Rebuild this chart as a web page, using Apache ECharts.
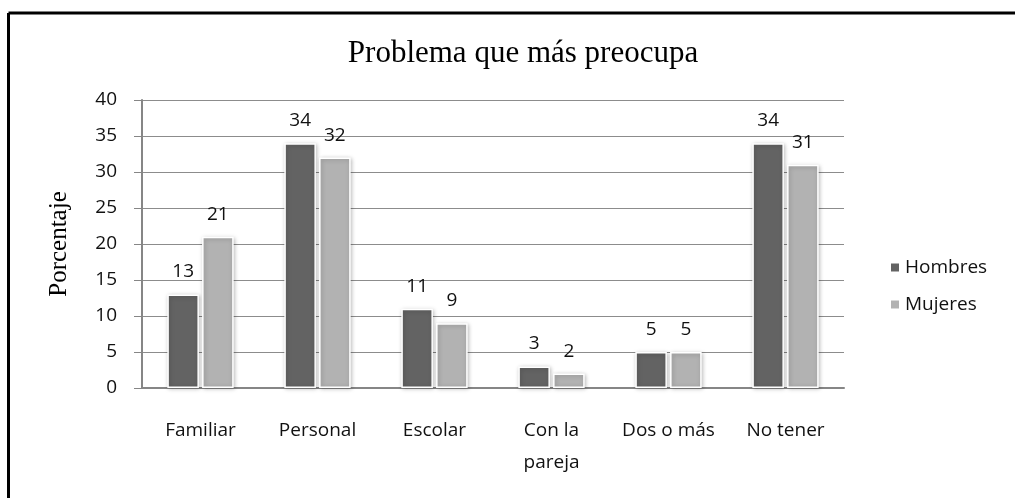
<!DOCTYPE html>
<html>
<head>
<meta charset="utf-8">
<script src="https://cdn.jsdelivr.net/npm/echarts@6/dist/echarts.min.js"></script>
<style>
  html, body { margin: 0; padding: 0; background: #fff; }
  #chart1 { width: 1015px; height: 498px; }
</style>
</head>
<body>
<div id="chart1"></div>
<script>
const categorias = ['Familiar', 'Personal', 'Escolar', 'Con la\npareja', 'Dos o más', 'No tener'];
const hombres = [13, 34, 11, 3, 5, 34];
const mujeres = [21, 32, 9, 2, 5, 31];
const ticksY = [0, 5, 10, 15, 20, 25, 30, 35, 40];

const fuenteSans = '"Open Sans", Lato, sans-serif';
const fuenteSerif = '"Liberation Serif", "DejaVu Serif", serif';

const serie = (nombre, datos, color) => ({
  name: nombre,
  type: 'bar',
  data: datos,
  barWidth: '27%',
  barGap: '10%',
  itemStyle: {
    color: color,
    borderColor: '#fff',
    borderWidth: 1.5,
    shadowBlur: 4,
    shadowColor: 'rgba(0,0,0,0.25)',
    shadowOffsetX: 1,
    shadowOffsetY: 1
  },
  label: {
    show: true,
    position: 'top',
    distance: 13,
    color: '#111',
    fontFamily: fuenteSans,
    fontSize: 19
  }
});

document.addEventListener('DOMContentLoaded', () => {
  const chart1 = echarts.init(document.getElementById('chart1'));

  const option = {
    animation: false,
    title: {
      text: 'Problema que más preocupa',
      left: 518,
      textAlign: 'center',
      top: 33,
      textStyle: {
        fontFamily: fuenteSerif,
        fontWeight: 'normal',
        fontSize: 31,
        color: '#000'
      }
    },
    legend: {
      orient: 'vertical',
      left: 884,
      top: 253,
      icon: 'rect',
      itemWidth: 10,
      itemHeight: 10,
      itemGap: 18,
      textStyle: { fontFamily: fuenteSans, fontSize: 19, color: '#111' },
      data: ['Hombres', 'Mujeres']
    },
    grid: { left: 142, right: 171, top: 100, bottom: 110 },
    xAxis: {
      type: 'category',
      data: categorias,
      axisTick: { show: false },
      axisLine: { lineStyle: { color: '#868686', width: 2 } },
      axisLabel: {
        interval: 0,
        margin: 27,
        color: '#111',
        fontFamily: fuenteSans,
        fontSize: 19,
        lineHeight: 32
      }
    },
    yAxis: {
      type: 'value',
      min: ticksY[0],
      max: ticksY[ticksY.length - 1],
      interval: 5,
      name: 'Porcentaje',
      nameLocation: 'middle',
      nameGap: 70,
      nameTextStyle: { fontFamily: fuenteSerif, fontSize: 25, color: '#000' },
      axisLine: { show: true, lineStyle: { color: '#868686', width: 2 } },
      axisTick: { show: true, inside: false, length: 8, lineStyle: { color: '#868686' } },
      splitLine: { lineStyle: { color: '#8c8c8c', width: 1 } },
      axisLabel: {
        margin: 25,
        color: '#111',
        fontFamily: fuenteSans,
        fontSize: 19
      }
    },
    graphic: [
      { type: 'line', shape: { x1: 8.5, y1: 13, x2: 1015, y2: 13 }, style: { stroke: '#000', lineWidth: 3 } },
      { type: 'line', shape: { x1: 8.5, y1: 13, x2: 8.5, y2: 498 }, style: { stroke: '#000', lineWidth: 3 } }
    ],
    series: [
      serie('Hombres', hombres, '#636363'),
      serie('Mujeres', mujeres, '#b2b2b2')
    ]
  };

  chart1.setOption(option);
});
</script>
</body>
</html>
